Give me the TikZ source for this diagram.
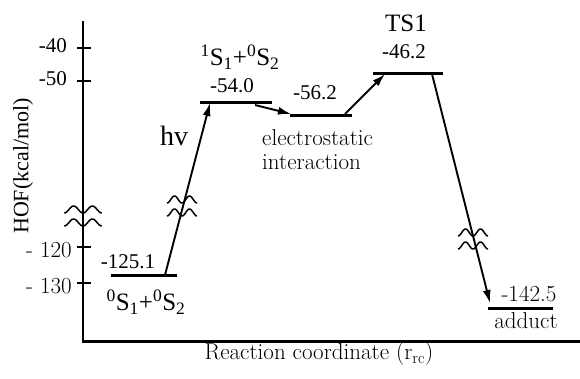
\documentclass[tikz,border=0pt]{standalone}
\usepackage{fontspec}
\newfontfamily\timesrm{Liberation Serif}
\usetikzlibrary{arrows.meta}
\tikzset{
  level/.style={line width=3pt},
  conn/.style={line width=1.9pt, -{Latex[length=13pt,width=8pt]}},
  axis/.style={line width=2.5pt},
  tnum/.style={font=\timesrm\fontsize{21}{24}\selectfont, inner sep=0pt},
  cmnum/.style={font=\fontsize{23}{26}\selectfont, inner sep=0pt},
  cmtext/.style={font=\fontsize{23}{26}\selectfont, inner sep=0pt},
  spec/.style={font=\timesrm\fontsize{25}{28}\selectfont, inner sep=0pt},
  big/.style={font=\timesrm\fontsize{25}{28}\selectfont, inner sep=0pt},
  wavy/.pic={
    \foreach \dy in {-6.5,6.5}
      \draw[line width=1.5pt] plot[domain=-90:630, samples=60, variable=\t]
        ({(\t+90)/24-15}, {\dy-3.5*sin(\t)});
  }
}

\begin{document}
\begin{tikzpicture}[x=1pt, y=-1pt, >=Latex]
    \useasboundingbox (0,0) rectangle (580,378);

    % Axes
    \coordinate (ytop) at (83,21);
    \coordinate (O) at (83,341.5);
    \coordinate (xend) at (580,341.5);
    \draw[axis] (ytop) -- (O) -- (xend);

    % Ticks, upper part and lower part of the broken scale
    \foreach \y/\lab in {48/-40, 81/-50} {
        \draw[axis] (77,\y) -- (91,\y);
        \node[tnum, anchor=east] (tk\y) at (67,\y-2) {\lab};
    }
    \foreach \y/\lab in {247/120, 283/130} {
        \draw[axis] (77,\y) -- (91,\y);
        \node[cmnum, anchor=east] (tk\y) at (72,\y+3) {-\ \lab};
    }
    \pic[xscale=1.25] at (83,216) {wavy};

    % Axis labels
    \node[font=\timesrm\fontsize{22}{24}\selectfont, rotate=90] (ylab) at (23,166) {HOF(kcal/mol)};
    \node[cmtext] (xlab) at (319,354) {Reaction coordinate (r\textsubscript{rc})};

    % Energy levels
    \coordinate (S0l) at (111,275); \coordinate (S0r) at (177,275);
    \coordinate (S1l) at (200,102); \coordinate (S1r) at (272,102);
    \coordinate (EIl) at (290,115); \coordinate (EIr) at (352,115);
    \coordinate (TSl) at (373,73);  \coordinate (TSr) at (443,73);
    \coordinate (ADl) at (488,308); \coordinate (ADr) at (553,308);
    \foreach \lv in {S0,S1,EI,TS,AD}
        \draw[level] (\lv l) -- (\lv r);

    % Level labels
    \node[tnum] (e0) at (128,262) {-125.1};
    \node[spec] (s0) at (146,302) {\textsuperscript{0}S\textsubscript{1}+\textsuperscript{0}S\textsubscript{2}};
    \node[tnum] (e1) at (232,86) {-54.0};
    \node[spec] (s1) at (240,57) {\textsuperscript{1}S\textsubscript{1}+\textsuperscript{0}S\textsubscript{2}};
    \node[tnum] (e2) at (315,93) {-56.2};
    \node[cmtext, anchor=base west] (es) at (262,145) {electrostatic};
    \node[cmtext, anchor=base west] (ia) at (262,169) {interaction};
    \node[big] (ts) at (406,23) {TS1};
    \node[tnum] (e3) at (404,52) {-46.2};
    \node[cmnum] (e4) at (529,294) {-142.5};
    \node[cmtext] (ad) at (526,321) {adduct};

    % Transitions
    \coordinate (a0) at (165,275); \coordinate (a1) at (210,103);
    \coordinate (b0) at (255,105); \coordinate (b1) at (291,114);
    \coordinate (c0) at (345,114); \coordinate (c1) at (385,74);
    \coordinate (d0) at (432,74);  \coordinate (d1) at (490,303);
    \draw[conn] (a0) -- (a1);
    \draw[conn] (b0) -- (b1);
    \draw[conn] (c0) -- (c1);
    \draw[conn] (d0) -- (d1);
    \node[font=\timesrm\fontsize{28}{30}\selectfont, inner sep=0pt] (hv) at (174,136) {hv};

    % Breaks on the long arrows
    \pic at (182,206) {wavy};
    \pic at (473,239) {wavy};
\end{tikzpicture}
\end{document}
